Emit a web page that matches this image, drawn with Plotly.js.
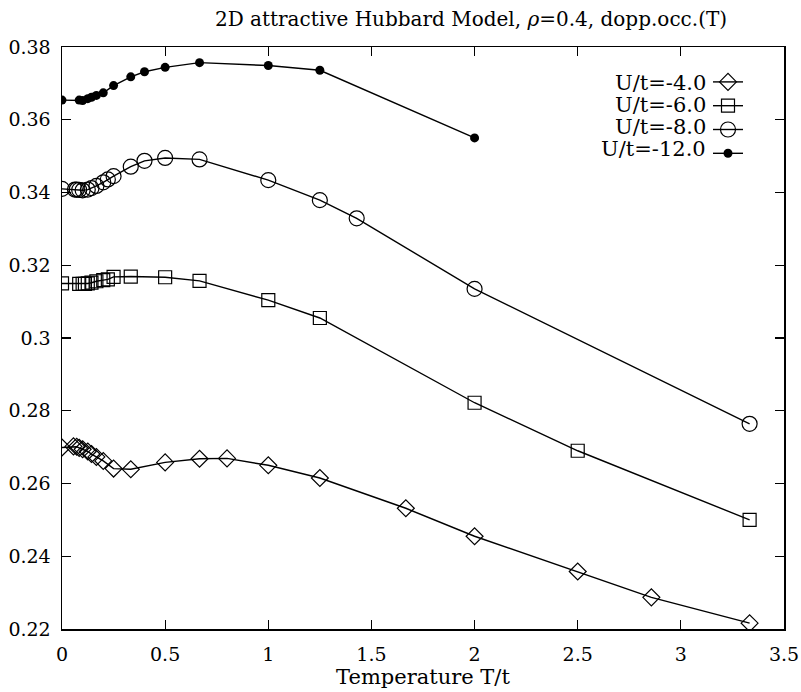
<!DOCTYPE html>
<html>
<head>
<meta charset="utf-8">
<script src="https://cdn.plot.ly/plotly-3.0.1.min.js"></script>
<style>html,body{margin:0;padding:0;background:#fff;}#chart{width:801px;height:692px;}</style>
</head>
<body>
<div id="chart"></div>
<script>
// Temperature T/t values and double occupancy for each U/t
var T4 = [0, 0.0556, 0.0714, 0.0833, 0.1, 0.125, 0.1429, 0.1667, 0.2, 0.25, 0.3333, 0.5, 0.6667, 0.8, 1, 1.25, 1.6667, 2, 2.5, 2.857, 3.3333];
var D4 = [0.2699, 0.2702, 0.2701, 0.2698, 0.2694, 0.2688, 0.2681, 0.2673, 0.2662, 0.2641, 0.2639, 0.2658, 0.2668, 0.2669, 0.2650, 0.2615, 0.2532, 0.2455, 0.2358, 0.2287, 0.2216];

var T6 = [0, 0.0833, 0.1, 0.1111, 0.125, 0.1429, 0.1667, 0.2, 0.2222, 0.25, 0.3333, 0.5, 0.6667, 1, 1.25, 2, 2.5, 3.3333];
var D6 = [0.3150, 0.3149, 0.3149, 0.3149, 0.3150, 0.3152, 0.3156, 0.3159, 0.3161, 0.3168, 0.3169, 0.3167, 0.3157, 0.3104, 0.3055, 0.2822, 0.2690, 0.2500];

var T8 = [0, 0.0625, 0.0714, 0.0833, 0.1, 0.125, 0.1429, 0.1667, 0.2, 0.2222, 0.25, 0.3333, 0.4, 0.5, 0.6667, 1, 1.25, 1.4286, 2, 3.3333];
var D8 = [0.3410, 0.3408, 0.3408, 0.3407, 0.3406, 0.3408, 0.3412, 0.3418, 0.3428, 0.3436, 0.3445, 0.3471, 0.3487, 0.3495, 0.3491, 0.3434, 0.3379, 0.3329, 0.3135, 0.2764];

var T12 = [0, 0.0833, 0.1, 0.125, 0.1429, 0.1667, 0.2, 0.25, 0.3333, 0.4, 0.5, 0.6667, 1, 1.25, 2];
var D12 = [0.3654, 0.3654, 0.3653, 0.3658, 0.3662, 0.3667, 0.3674, 0.3694, 0.3718, 0.3732, 0.3744, 0.3757, 0.3749, 0.3736, 0.3550];

var seriesNames = ["U/t=-4.0", "U/t=-6.0", "U/t=-8.0", "U/t=-12.0"];
var xTicks = [0, 0.5, 1, 1.5, 2, 2.5, 3, 3.5];
var yTicks = [0.22, 0.24, 0.26, 0.28, 0.3, 0.32, 0.34, 0.36, 0.38];

var FONT = "DejaVu Serif, Liberation Serif, serif";

function tr(x, y, name, sym, size, lw) {
  return {
    x: x, y: y, type: 'scatter', mode: 'lines+markers', name: ' ',
    line: {color: '#000', width: 1.4},
    marker: {symbol: sym, size: size, color: '#000', line: {color: '#000', width: lw}},
    showlegend: true, hoverinfo: 'x+y'
  };
}

var data = [
  tr(T4, D4, seriesNames[0], 'diamond-open', 13, 1.2),
  tr(T6, D6, seriesNames[1], 'square-open', 13, 1.2),
  tr(T8, D8, seriesNames[2], 'circle-open', 15, 1.2),
  tr(T12, D12, seriesNames[3], 'circle', 9, 0)
];

// legend label texts placed to the left of the legend symbols
var rowPx = [83, 105, 127, 149];
var plotTop = 47, plotBot = 629;
var annotations = seriesNames.map(function (n, i) {
  return {
    text: n, xref: 'paper', yref: 'paper',
    x: (708 - 62) / (784 - 62), xanchor: 'right',
    y: (plotBot - rowPx[i]) / (plotBot - plotTop), yanchor: 'middle',
    showarrow: false, font: {family: FONT, size: 21, color: '#000'}
  };
});

var layout = {
  width: 801, height: 692,
  margin: {l: 62, r: 17, t: 47, b: 63},
  paper_bgcolor: '#fff', plot_bgcolor: '#fff',
  font: {family: FONT, size: 19, color: '#000'},
  title: {
    text: '2D attractive Hubbard Model, <i>ρ</i>=0.4, dopp.occ.(T)',
    font: {family: FONT, size: 20, color: '#000'},
    x: (471 - 62) / (784 - 62), xref: 'paper', xanchor: 'center',
    y: 1 - 19 / 692, yref: 'container', yanchor: 'middle'
  },
  xaxis: {
    range: [0, 3.5], tickvals: xTicks, ticktext: xTicks.map(String),
    ticks: 'inside', ticklen: 9, tickwidth: 1.2, tickcolor: '#000',
    showline: true, linecolor: '#000', linewidth: 1.5, mirror: 'ticks',
    showgrid: false, zeroline: false,
    ticklabelstandoff: 8,
    tickfont: {family: FONT, size: 19},
    title: {text: 'Temperature T/t', font: {family: FONT, size: 21}, standoff: 4}
  },
  yaxis: {
    range: [0.22, 0.38], tickvals: yTicks, ticktext: yTicks.map(String),
    ticks: 'inside', ticklen: 9, tickwidth: 1.2, tickcolor: '#000',
    showline: true, linecolor: '#000', linewidth: 1.5, mirror: 'ticks',
    showgrid: false, zeroline: false,
    ticklabelstandoff: 6,
    tickfont: {family: FONT, size: 19}
  },
  showlegend: true,
  legend: {
    x: (708 - 62) / (784 - 62), xanchor: 'left',
    y: (plotBot - 65) / (plotBot - plotTop), yanchor: 'top',
    bgcolor: 'rgba(255,255,255,0)', borderwidth: 0,
    font: {family: FONT, size: 16}, itemwidth: 30, tracegroupgap: 0
  },
  annotations: annotations
};

Plotly.newPlot('chart', data, layout, {displayModeBar: false, staticPlot: true});
</script>
</body>
</html>
